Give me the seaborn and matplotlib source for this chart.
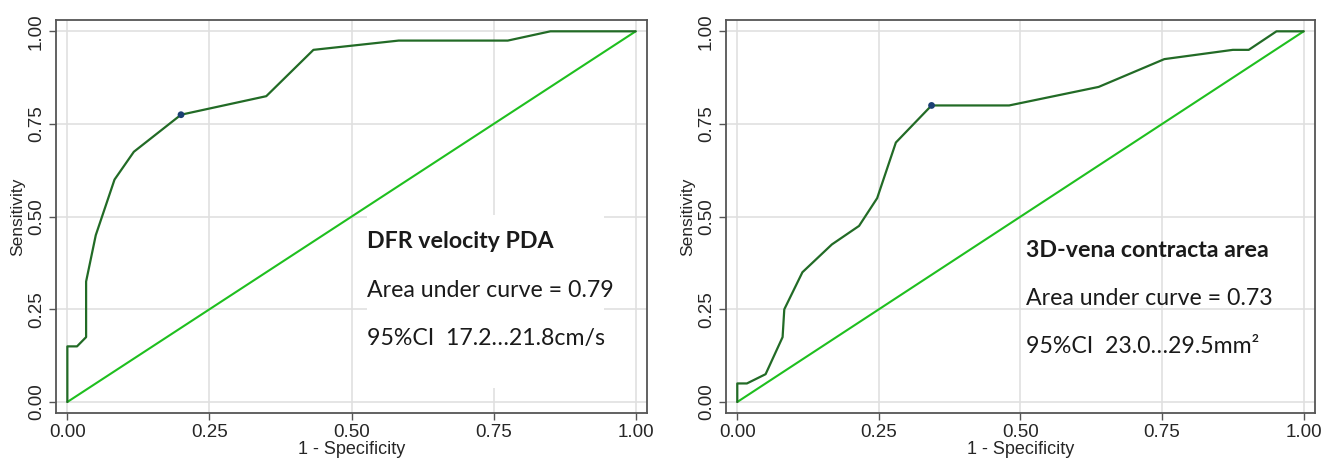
import numpy as np
import pandas as pd
import matplotlib
matplotlib.use("Agg")
import matplotlib.pyplot as plt
from matplotlib.patches import Rectangle
import seaborn as sns

# ROC curve for DFR velocity PDA (1 - specificity, sensitivity)
dfr_fpr = [0, 0, 0.017, 0.033, 0.033, 0.05, 0.083, 0.117, 0.2, 0.35, 0.433, 0.583, 0.775, 0.85, 1.0]
dfr_tpr = [0, 0.15, 0.15, 0.175, 0.325, 0.45, 0.6, 0.675, 0.775, 0.825, 0.95, 0.975, 0.975, 1.0, 1.0]
dfr_cut = (0.2, 0.775)

# ROC curve for 3D vena contracta area
vc_fpr = [0, 0, 0.017, 0.05, 0.08, 0.083, 0.115, 0.167, 0.215, 0.247, 0.28, 0.343, 0.48, 0.638, 0.754, 0.875, 0.903, 0.952, 1.0]
vc_tpr = [0, 0.05, 0.05, 0.075, 0.175, 0.25, 0.35, 0.425, 0.475, 0.55, 0.70, 0.80, 0.80, 0.85, 0.925, 0.95, 0.95, 1.0, 1.0]
vc_cut = (0.343, 0.80)

ref_line = [0, 1]
ticks = [0, 0.25, 0.5, 0.75, 1.0]
tick_labels = ["0.00", "0.25", "0.50", "0.75", "1.00"]

titles = ["DFR velocity PDA", "3D-vena contracta area"]
auc_text = ["Area under curve = 0.79", "Area under curve = 0.73"]
ci_text = ["95%CI  17.2…21.8cm/s", "95%CI  23.0…29.5mm²"]

sns.set_style("whitegrid", {
    "grid.color": "#e0e0e0",
    "axes.edgecolor": "#555555",
    "xtick.bottom": True,
    "ytick.left": True,
})
plt.rcParams["font.family"] = ["Liberation Sans", "DejaVu Sans"]

fig = plt.figure(figsize=(13.33, 4.59), dpi=100)
ax1 = fig.add_axes([0.042, 0.100, 0.4434, 0.856])
ax2 = fig.add_axes([0.5446, 0.100, 0.4419, 0.856])

panels = [
    (ax1, dfr_fpr, dfr_tpr, dfr_cut, (0.527, 0.432), True),
    (ax2, vc_fpr, vc_tpr, vc_cut, (0.51, 0.41), False),
]

for i, (ax, fpr, tpr, cut, tpos, boxed) in enumerate(panels):
    df = pd.DataFrame({"fpr": fpr, "tpr": tpr})
    sns.lineplot(x=ref_line, y=ref_line, ax=ax, color="#1fbf1f", linewidth=1.5, zorder=2)
    sns.lineplot(data=df, x="fpr", y="tpr", ax=ax, color="#226b26", linewidth=1.6,
                 estimator=None, sort=False, zorder=3)
    sns.scatterplot(x=[cut[0]], y=[cut[1]], ax=ax, color="#1b3f73", s=24,
                    edgecolor="none", zorder=4)

    ax.set_xlim(-0.02, 1.02)
    ax.set_ylim(-0.03, 1.03)
    ax.set_xticks(ticks)
    ax.set_yticks(ticks)
    ax.set_xticklabels(tick_labels, fontsize=13.5)
    ax.set_yticklabels(tick_labels, fontsize=13.5, rotation=90, va="center")
    ax.tick_params(length=5, width=1, color="#555555", pad=3)
    ax.grid(True, linewidth=1.2)
    for sp in ax.spines.values():
        sp.set_linewidth(1.3)
    ax.set_xlabel("1 - Specificity", fontsize=13, labelpad=0)
    ax.set_ylabel("Sensitivity", fontsize=12.5, labelpad=2)

    if boxed:
        ax.add_patch(Rectangle((0.527, 0.038), 0.418, 0.466, facecolor="white",
                               edgecolor="none", zorder=1))

    x0, y0 = tpos
    ax.text(x0, y0, titles[i], fontsize=16.7, fontweight="bold", family=["Lato", "DejaVu Sans"],
            va="center", ha="left", color="#1a1a1a", zorder=5)
    ax.text(x0, y0 - 0.13, auc_text[i], fontsize=16.7, family=["Lato", "DejaVu Sans"],
            va="center", ha="left", color="#1a1a1a", zorder=5)
    ax.text(x0, y0 - 0.26, ci_text[i], fontsize=16.7, family=["Lato", "DejaVu Sans"],
            va="center", ha="left", color="#1a1a1a", zorder=5)

fig.savefig("out.png", dpi=100, facecolor="white")
